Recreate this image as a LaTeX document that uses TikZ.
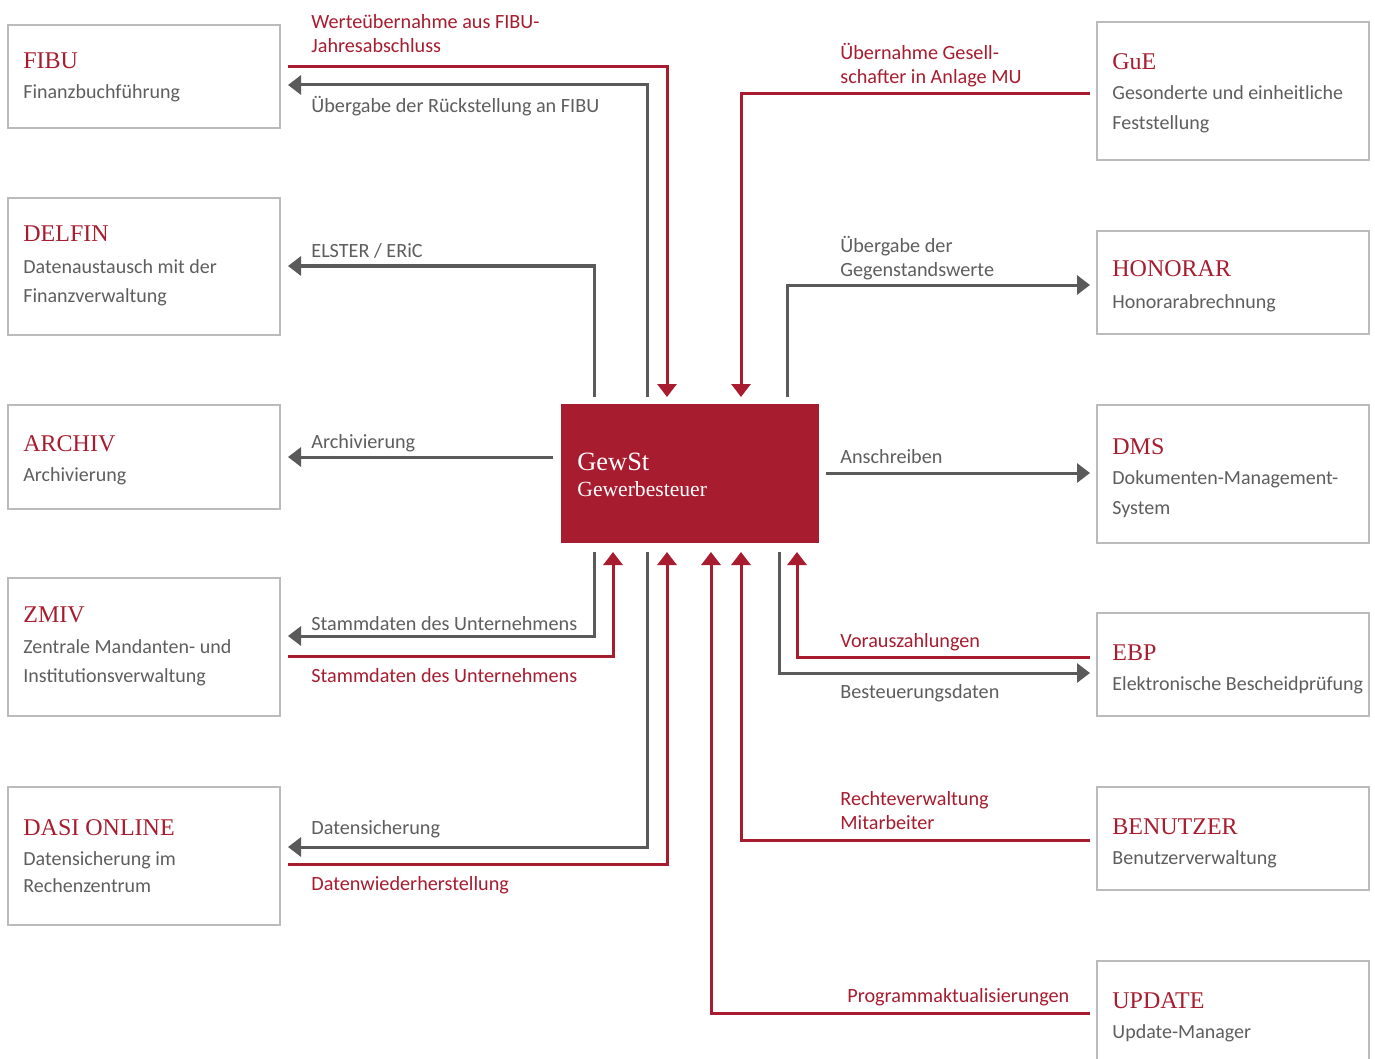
\documentclass[tikz,border=0pt]{standalone}
\usepackage{fontspec}
\setmainfont{Liberation Serif}
\newfontfamily\lblfont{Carlito}
\usetikzlibrary{arrows.meta,calc}
\definecolor{gred}{HTML}{A81C2F}
\definecolor{ggray}{HTML}{5A5A5A}
\definecolor{gtext}{HTML}{5E5E5E}
\definecolor{gframe}{HTML}{BBBBBB}
\begin{document}
\begin{tikzpicture}[x=0.5pt,y=-0.5pt,
 box/.style={draw=gframe,line width=0.7pt,anchor=north west,minimum width=136pt,inner sep=0pt,outer sep=0pt},
 ttl/.style={anchor=base west,inner sep=0pt,text=gred,font=\fontsize{12}{14}\selectfont},
 sub/.style={anchor=base west,inner sep=0pt,text=gtext,font=\lblfont\fontsize{10}{12}\selectfont},
 lab/.style={anchor=base west,inner sep=0pt,text=gtext,font=\lblfont\fontsize{10.1}{12}\selectfont},
 rlab/.style={lab,text=gred},
 gl/.style={draw=ggray,line width=1.5pt},
 rl/.style={draw=gred,line width=1.5pt},
 tip/.style={-{Triangle[length=6.5pt,width=9.5pt]}}]
\clip (0,0) rectangle (1375,1059);
\fill[white] (0,0) rectangle (1375,1059);
% left boxes
\node[box,minimum height=51.5pt] (fibu) at (8,25) {};
\node[ttl] (fibuT) at (23,69) {FIBU};
\node[sub] (fibuS) at (23,99) {Finanzbuchführung};
\node[box,minimum height=68.5pt] (delfin) at (8,198) {};
\node[ttl] (delfinT) at (23,242) {DELFIN};
\node[sub] (delfinS) at (23,273) {Datenaustausch mit der};
\node[sub] (delfinS2) at (23,302) {Finanzverwaltung};
\node[box,minimum height=52pt] (archiv) at (8,405) {};
\node[ttl] (archivT) at (23,451) {ARCHIV};
\node[sub] (archivS) at (23,481) {Archivierung};
\node[box,minimum height=69pt] (zmiv) at (8,578) {};
\node[ttl] (zmivT) at (23,622) {ZMIV};
\node[sub] (zmivS) at (23,653) {Zentrale Mandanten- und};
\node[sub] (zmivS2) at (23,682) {Institutionsverwaltung};
\node[box,minimum height=69pt] (dasi) at (8,787) {};
\node[ttl] (dasiT) at (23,835) {DASI ONLINE};
\node[sub] (dasiS) at (23,865) {Datensicherung im};
\node[sub] (dasiS2) at (23,892) {Rechenzentrum};
% right boxes
\node[box,minimum height=69pt] (gue) at (1097,22) {};
\node[ttl] (gueT) at (1112,70) {GuE};
\node[sub] (gueS) at (1112,100) {Gesonderte und einheitliche};
\node[sub] (gueS2) at (1112,130) {Feststellung};
\node[box,minimum height=51.5pt] (honorar) at (1097,231) {};
\node[ttl] (honorarT) at (1112,277) {HONORAR};
\node[sub] (honorarS) at (1112,308) {Honorarabrechnung};
\node[box,minimum height=69pt] (dms) at (1097,405) {};
\node[ttl] (dmsT) at (1112,454) {DMS};
\node[sub] (dmsS) at (1112,484) {Dokumenten-Management-};
\node[sub] (dmsS2) at (1112,514) {System};
\node[box,minimum height=51.5pt] (ebp) at (1097,613) {};
\node[ttl] (ebpT) at (1112,660) {EBP};
\node[sub] (ebpS) at (1112,690) {Elektronische Bescheidprüfung};
\node[box,minimum height=51.5pt] (benutzer) at (1097,787) {};
\node[ttl] (benutzerT) at (1112,834) {BENUTZER};
\node[sub] (benutzerS) at (1112,864) {Benutzerverwaltung};
\node[box,minimum height=69pt] (update) at (1097,961) {};
\node[ttl] (updateT) at (1112,1008) {UPDATE};
\node[sub] (updateS) at (1112,1038) {Update-Manager};
% centre
\node[fill=gred,anchor=north west,minimum width=129pt,minimum height=69.5pt,inner sep=0pt,outer sep=0pt] (gew) at (561,404) {};
\node[anchor=base west,inner sep=0pt,text=white,font=\fontsize{13.2}{14}\selectfont] (gewT) at (577,470) {GewSt};
\node[anchor=base west,inner sep=0pt,text=white,font=\fontsize{10.8}{12}\selectfont] (gewS) at (577,496) {Gewerbesteuer};
% connectors
\draw[rl,tip] ($(fibu.north east)+(8,42)$) -| ($(gew.north west)+(106,-7)$);
\draw[gl,tip] ($(gew.north west)+(86,-7)$) |- ($(fibu.north east)+(8,60)$);
\draw[gl,tip] ($(gew.north west)+(33,-7)$) |- ($(delfin.north east)+(8,68)$);
\draw[gl,tip] ($(gew.north west)+(-8,53)$) -- ($(archiv.north east)+(8,52)$);
\draw[gl,tip] ($(gew.south west)+(33,9)$) |- ($(zmiv.north east)+(8,58)$);
\draw[rl,tip] ($(zmiv.north east)+(8,78)$) -| ($(gew.south west)+(52,9)$);
\draw[gl,tip] ($(gew.south west)+(86,9)$) |- ($(dasi.north east)+(8,60)$);
\draw[rl,tip] ($(dasi.north east)+(8,77)$) -| ($(gew.south west)+(106,9)$);
\draw[rl,tip] ($(update.north west)+(-7,52)$) -| ($(gew.south west)+(150,9)$);
\draw[rl,tip] ($(benutzer.north west)+(-7,53)$) -| ($(gew.south west)+(180,9)$);
\draw[rl,tip] ($(ebp.north west)+(-7,44)$) -| ($(gew.south west)+(236,9)$);
\draw[gl,tip] ($(gew.south west)+(218,9)$) |- ($(ebp.north west)+(-7,60)$);
\draw[gl,tip] ($(gew.north east)+(7,69)$) -- ($(dms.north west)+(-7,68)$);
\draw[gl,tip] ($(gew.north east)+(-32,-7)$) |- ($(honorar.north west)+(-7,54)$);
\draw[rl,tip] ($(gue.north west)+(-7,72)$) -| ($(gew.north west)+(180,-7)$);
% labels
\node[rlab] (l1a) at (311,29) {Werteübernahme aus FIBU-};
\node[rlab] (l1b) at (311,53) {Jahresabschluss};
\node[lab] (l2) at (311,113) {Übergabe der Rückstellung an FIBU};
\node[lab] (l3) at (311,257) {ELSTER / ERiC};
\node[lab] (l4) at (311,448) {Archivierung};
\node[lab] (l5) at (311,630) {Stammdaten des Unternehmens};
\node[rlab] (l6) at (311,682) {Stammdaten des Unternehmens};
\node[lab] (l7) at (311,834) {Datensicherung};
\node[rlab] (l8) at (311,890) {Datenwiederherstellung};
\node[rlab] (r1a) at (840,60) {Übernahme Gesell-};
\node[rlab] (r1b) at (840,84) {schafter in Anlage MU};
\node[lab] (r2a) at (840,253) {Übergabe der};
\node[lab] (r2b) at (840,277) {Gegenstandswerte};
\node[lab] (r3) at (840,463) {Anschreiben};
\node[rlab] (r4) at (840,647) {Vorauszahlungen};
\node[lab] (r5) at (840,698) {Besteuerungsdaten};
\node[rlab] (r6a) at (840,805) {Rechteverwaltung};
\node[rlab] (r6b) at (840,829) {Mitarbeiter};
\node[rlab] (r7) at (847,1002) {Programmaktualisierungen};
\end{tikzpicture}
\end{document}
